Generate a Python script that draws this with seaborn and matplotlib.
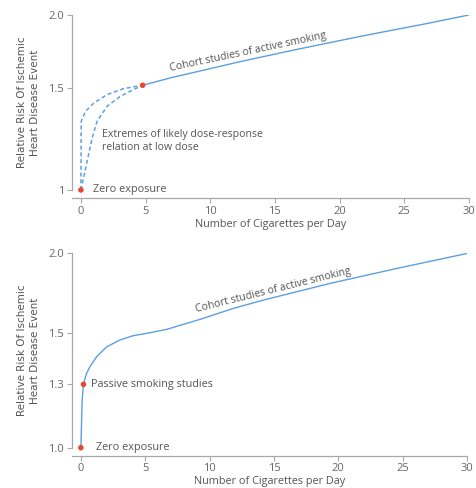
import numpy as np
import pandas as pd
import matplotlib
matplotlib.use("Agg")
import matplotlib.pyplot as plt
import seaborn as sns

# ---- data ----
# top panel: extremes of the low-dose relation and the cohort line
upper_x = [0, 0.02, 0.36, 1.0, 2.02, 3.3, 4.77]
upper_y = [1.0, 1.313, 1.366, 1.411, 1.459, 1.494, 1.514]
lower_x = [0, 0.48, 0.87, 1.25, 2.02, 3.04, 4.06, 4.77]
lower_y = [1.0, 1.12, 1.229, 1.313, 1.393, 1.449, 1.488, 1.514]
cohort_top_x = [4.77, 7.07, 9.63, 12.18, 16.53, 21.63, 26.74, 30]
cohort_top_y = [1.514, 1.562, 1.61, 1.66, 1.742, 1.838, 1.933, 2.0]
top_dots_x = [0, 4.77]
top_dots_y = [1.0, 1.514]

# bottom panel: one curve through passive smoking studies
bottom_x = [0, 0.1, 0.2, 0.44, 0.7, 1.22, 2.0, 3.03, 4.06, 5.1, 6.66,
            9.25, 11.83, 14.16, 19.35, 24.53, 30]
bottom_y = [1.0, 1.226, 1.3, 1.343, 1.369, 1.408, 1.447, 1.474, 1.491, 1.5,
            1.525, 1.5875, 1.656, 1.708, 1.8125, 1.906, 2.0]
bottom_dots_x = [0, 0.2]
bottom_dots_y = [1.0, 1.3]

x_ticks = [0, 5, 10, 15, 20, 25, 30]
top_yticks = [1.0, 1.5, 2.0]
top_ylabels = ["1", "1.5", "2.0"]
bottom_yticks = [1.0, 1.3, 1.5, 2.0]
bottom_ylabels = ["1.0", "1.3", "1.5", "2.0"]

BLUE = "#5c9fe2"
RED = "#e8472f"
TXT = "#555555"
GREY = "#a8a8a8"

sns.set_style("ticks")
plt.rcParams["font.family"] = ["Open Sans", "DejaVu Sans"]

fig = plt.figure(figsize=(4.76, 4.88), dpi=100)
ax1 = fig.add_axes([0.151, 0.6107, 0.834, 0.3586])
ax2 = fig.add_axes([0.151, 0.0826, 0.830, 0.398])

# top panel
ax1.set_yscale("log")
sns.lineplot(x=upper_x, y=upper_y, ax=ax1, color=BLUE, lw=1.1, sort=False,
             estimator=None, linestyle=(0, (2.6, 1.8)))
sns.lineplot(x=lower_x, y=lower_y, ax=ax1, color=BLUE, lw=1.1, sort=False,
             estimator=None, linestyle=(0, (2.6, 1.8)))
sns.lineplot(x=cohort_top_x, y=cohort_top_y, ax=ax1, color=BLUE, lw=1.0,
             sort=False, estimator=None)
sns.scatterplot(x=top_dots_x, y=top_dots_y, ax=ax1, color=RED, s=16,
                edgecolor="none", zorder=5, clip_on=False)

ax1.text(7.0, 1.585, "Cohort studies of active smoking", rotation=12,
         rotation_mode="anchor", ha="left", va="bottom", fontsize=7.6, color=TXT)
ax1.text(1.6, 1.214, "Extremes of likely dose-response\nrelation at low dose",
         ha="left", va="center", fontsize=7.6, color=TXT, linespacing=1.25)
ax1.text(0.92, 1.0, "Zero exposure", ha="left", va="center", fontsize=7.8,
         color=TXT)

# bottom panel, uneven y spacing as in the original figure
yv = [0.0, 1.0, 1.3, 1.5, 2.0, 3.0]
yp = [-211.3, 0, 63.4, 114.4, 194.4, 354.4]
ax2.set_yscale("function", functions=(lambda v: np.interp(v, yv, yp),
                                      lambda p: np.interp(p, yp, yv)))
sns.lineplot(x=bottom_x, y=bottom_y, ax=ax2, color=BLUE, lw=1.0, sort=False,
             estimator=None)
sns.scatterplot(x=bottom_dots_x, y=bottom_dots_y, ax=ax2, color=RED, s=16,
                edgecolor="none", zorder=5, clip_on=False)

ax2.text(9.0, 1.615, "Cohort studies of active smoking", rotation=14,
         rotation_mode="anchor", ha="left", va="bottom", fontsize=7.6, color=TXT)
ax2.text(0.75, 1.3, "Passive smoking studies", ha="left", va="center",
         fontsize=7.8, color=TXT)
ax2.text(1.17, 1.0, "Zero exposure", ha="left", va="center", fontsize=7.8,
         color=TXT)

for ax, yt, yl in [(ax1, top_yticks, top_ylabels), (ax2, bottom_yticks, bottom_ylabels)]:
    ax.set_xlim(-0.7, 30)
    ax.set_ylim(1.0, 2.0)
    ax.set_xticks(x_ticks)
    ax.set_xticklabels([str(t) for t in x_ticks])
    ax.set_yticks(yt)
    ax.set_yticklabels(yl)
    ax.yaxis.set_minor_locator(matplotlib.ticker.NullLocator())
    sns.despine(ax=ax, offset={"bottom": 5.8})
    ax.spines["left"].set_bounds(1.0, 2.0)
    for s in ["left", "bottom"]:
        ax.spines[s].set_color(GREY)
        ax.spines[s].set_linewidth(0.9)
    ax.tick_params(axis="both", colors=GREY, labelcolor="#666666",
                   labelsize=8, length=3.5, width=0.8, pad=2)
    ax.set_xlabel("Number of Cigarettes per Day", fontsize=7.8, color=TXT,
                  labelpad=1.5)
    ax.set_ylabel("Relative Risk Of Ischemic\nHeart Disease Event",
                  fontsize=7.5, color=TXT, linespacing=1.35, labelpad=6,
                  family=["Liberation Sans Narrow", "DejaVu Sans"])

fig.savefig("out.png", dpi=100)
